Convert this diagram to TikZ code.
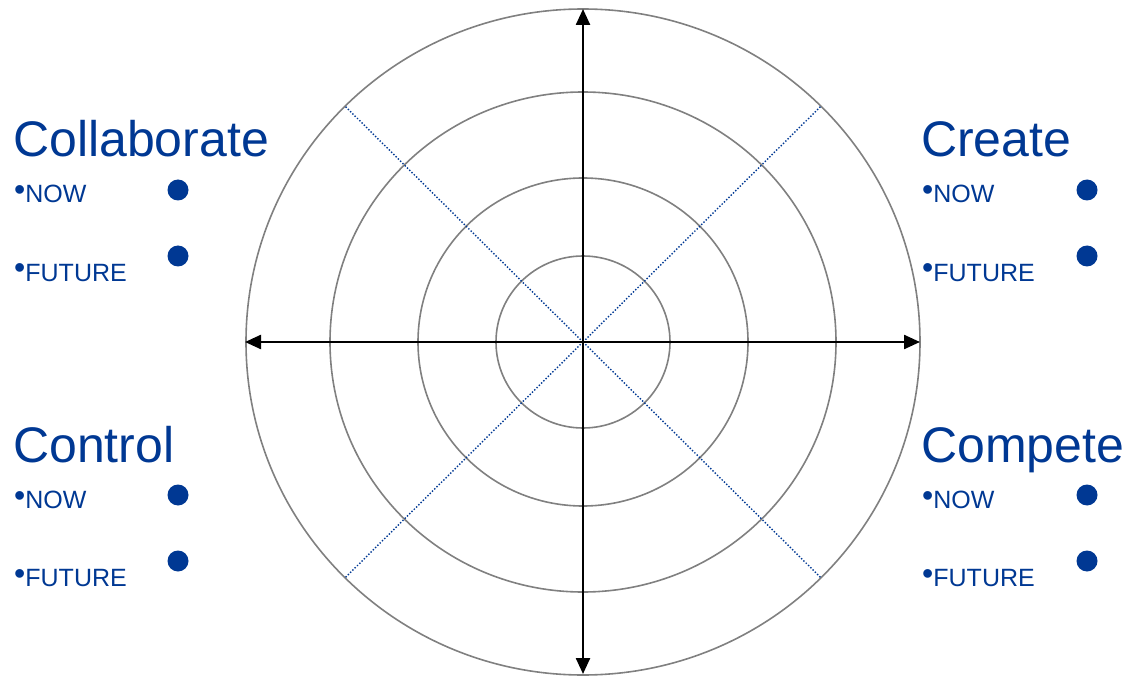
\documentclass[tikz,border=0pt]{standalone}
\usepackage{fontspec}
\setmainfont{Liberation Sans}
\usepackage{tikz}
\usetikzlibrary{arrows.meta}

\definecolor{quadblue}{RGB}{0,56,147}
\newcommand{\itembullet}{\raisebox{2pt}{\fontsize{32}{32}\selectfont •}}

\tikzset{
  ring/.style={draw=black!50, line width=1.6pt},
  axis/.style={line width=2.4pt, {Triangle[length=16pt,width=14pt]}-{Triangle[length=16pt,width=14pt]}},
  diag/.style={draw=quadblue, dash pattern=on 1.4pt off 1.8pt, line width=1.4pt},
  quadhead/.style={anchor=base west, inner sep=0pt, text=quadblue, font=\fontsize{50}{50}\selectfont},
  quaditem/.style={anchor=base west, inner sep=0pt, text=quadblue, font=\fontsize{25}{25}\selectfont},
  quaddot/.style={circle, fill=quadblue, minimum size=21pt, inner sep=0pt}
}

\begin{document}
\begin{tikzpicture}[x=1pt, y=-1pt]
\useasboundingbox (0,0) rectangle (1133,679);
\coordinate (c) at (583,342);
% rings
\foreach \rx/\ry in {337/333, 253/250, 165/164, 87/86}
  \draw[ring] (c) ellipse [x radius=\rx, y radius=\ry];
% dotted diagonals
\foreach \a in {45,135,225,315}
  \draw[diag] (c) -- ++(\a:337 and 334);
% axes
\coordinate (top) at (583,9);
\coordinate (bottom) at (583,674);
\coordinate (left) at (245,342);
\coordinate (right) at (920,342);
\draw[axis] (top) -- (bottom);
\draw[axis] (left) -- (right);
% quadrant labels
\foreach \lbl/\x/\y/\dx in {Collaborate/13/157/178, Create/921/157/1087,
                            Control/13/462/178, Compete/921/462/1087}{
  \node[quadhead] (\lbl) at (\x,\y) {\lbl};
  \node[quaditem] (\lbl-now) at (\x+1,\y+46) {\itembullet NOW};
  \node[quaditem] (\lbl-fut) at (\x+1,\y+124) {\itembullet FUTURE};
  \node[quaddot] (\lbl-d1) at (\dx,\y+33) {};
  \node[quaddot] (\lbl-d2) at (\dx,\y+99) {};
}
\end{tikzpicture}
\end{document}
